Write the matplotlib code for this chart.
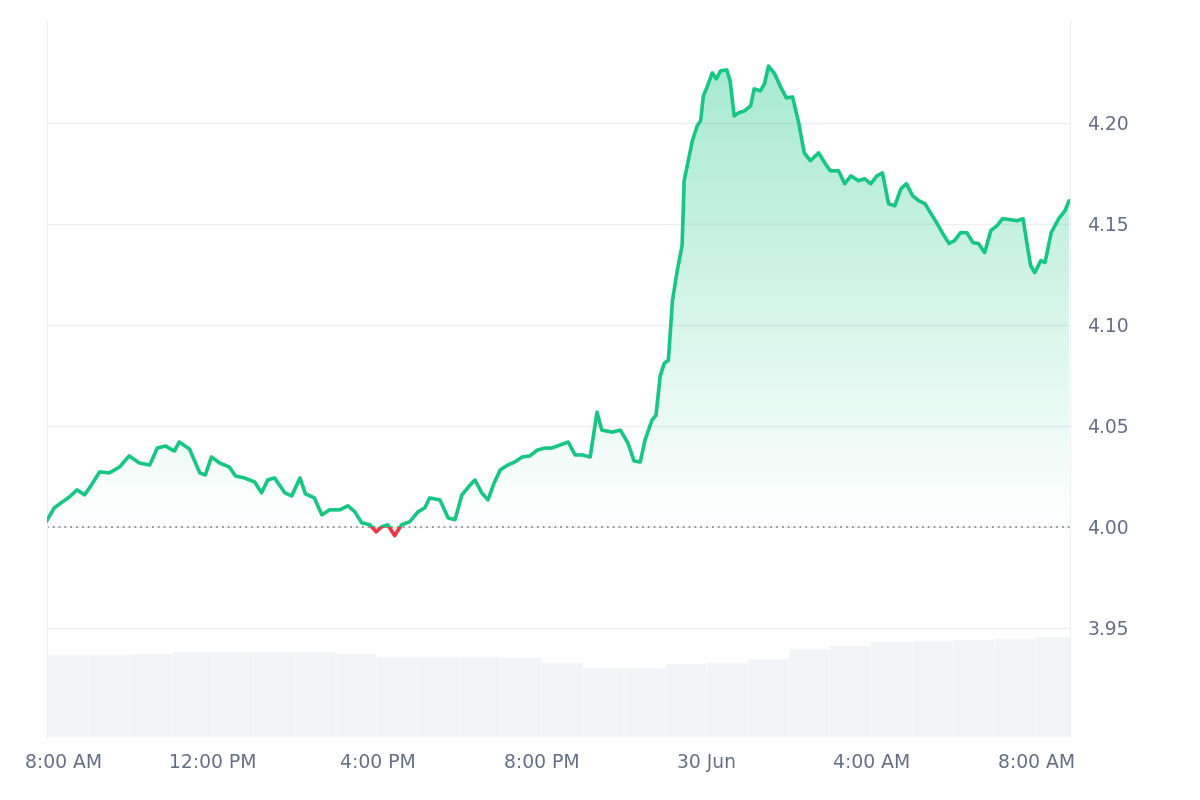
import datetime as dt
import numpy as np
import matplotlib
matplotlib.use("Agg")
import matplotlib.pyplot as plt
import matplotlib.dates as mdates
import matplotlib.transforms as mtransforms
from matplotlib.path import Path
from matplotlib.patches import PathPatch, Rectangle
from matplotlib.colors import LinearSegmentedColormap

# minutes after 8:22 AM (29 Jun) and price
minutes = [-25, -13, -3, 9, 20, 31, 41, 53, 67, 82, 96, 111, 126, 137, 149, 162, 169, 184, 199, 207,
           216, 228, 242, 251, 264, 279, 289, 298, 308, 323, 333, 345, 353, 366, 377, 388, 403, 415, 425, 435,
           447, 456, 464, 473, 483, 493, 505, 517, 527, 534, 549, 561, 571, 581, 593, 600, 610, 619, 628, 637,
           648, 658, 669, 680, 691, 702, 712, 724, 736, 746, 756, 768, 778, 785, 800, 812, 823, 832, 841, 848,
           858, 864, 870, 876, 882, 888, 895, 902, 905, 911, 917, 924, 929, 933, 939, 946, 952, 958, 967, 972,
           978, 984, 993, 1002, 1007, 1016, 1022, 1028, 1037, 1045, 1054, 1063, 1072, 1080, 1089, 1101, 1110, 1118, 1130, 1139,
           1148, 1159, 1168, 1177, 1186, 1194, 1203, 1212, 1221, 1229, 1238, 1247, 1256, 1264, 1273, 1282, 1291, 1299, 1308, 1317,
           1326, 1334, 1343, 1352, 1361, 1369, 1381, 1390, 1399, 1404, 1410, 1416, 1425, 1431, 1440, 1451, 1460, 1466]
prices = [4.0025, 4.0094, 4.0119, 4.0148, 4.0183, 4.0158, 4.0207, 4.0272, 4.0267, 4.0296, 4.0351, 4.0316, 4.0306, 4.0390, 4.0400, 4.0375, 4.0420, 4.0385, 4.0267, 4.0257,
          4.0346, 4.0316, 4.0296, 4.0252, 4.0242, 4.0222, 4.0168, 4.0232, 4.0242, 4.0168, 4.0153, 4.0242, 4.0163, 4.0143, 4.0059, 4.0084, 4.0084, 4.0104, 4.0074, 4.0020,
          4.0010, 3.9975, 4.0000, 4.0010, 3.9956, 4.0010, 4.0025, 4.0074, 4.0094, 4.0143, 4.0133, 4.0044, 4.0035, 4.0158, 4.0207, 4.0232, 4.0168, 4.0133, 4.0217, 4.0282,
          4.0306, 4.0321, 4.0346, 4.0351, 4.0380, 4.0390, 4.0390, 4.0405, 4.0420, 4.0356, 4.0356, 4.0346, 4.0568, 4.0479, 4.0469, 4.0479, 4.0415, 4.0326, 4.0321, 4.0430,
          4.0528, 4.0553, 4.0746, 4.0810, 4.0825, 4.1121, 4.1270, 4.1393, 4.1714, 4.1813, 4.1912, 4.1986, 4.2011, 4.2134, 4.2183, 4.2248, 4.2218, 4.2258, 4.2263, 4.2208,
          4.2035, 4.2050, 4.2060, 4.2085, 4.2169, 4.2159, 4.2193, 4.2282, 4.2243, 4.2183, 4.2124, 4.2129, 4.2000, 4.1852, 4.1813, 4.1852, 4.1802, 4.1763, 4.1763, 4.1699,
          4.1738, 4.1714, 4.1724, 4.1699, 4.1738, 4.1753, 4.1600, 4.1590, 4.1674, 4.1699, 4.1640, 4.1615, 4.1600, 4.1556, 4.1506, 4.1452, 4.1403, 4.1417, 4.1457, 4.1457,
          4.1407, 4.1403, 4.1358, 4.1467, 4.1491, 4.1526, 4.1521, 4.1516, 4.1526, 4.1417, 4.1294, 4.1259, 4.1319, 4.1309, 4.1457, 4.1526, 4.1565, 4.1615]
open_price = 4.00

# hourly volume from 8 AM 29 Jun to 8 AM 30 Jun (relative units)
vol_hours = list(range(25))
volumes = [82, 82, 83, 85, 85, 85, 85, 83, 80, 80, 80, 79, 74, 69, 69, 73, 74, 78, 88, 91, 95, 96, 97, 98, 100]

tick_hours = [0, 4, 8, 12, 16, 20, 24]
tick_labels = ["8:00 AM", "12:00 PM", "4:00 PM", "8:00 PM", "30 Jun", "4:00 AM", "8:00 AM"]

GREEN = "#16c784"
RED = "#ea3943"
TXT = "#616e85"

base = dt.datetime(2025, 6, 29, 8, 22)
day0 = dt.datetime(2025, 6, 29, 8, 0)
t = mdates.date2num([base + dt.timedelta(minutes=m) for m in minutes])
p = np.array(prices)

fig = plt.figure(figsize=(12, 8), dpi=100)
ax = fig.add_axes([0.039, 0.079, 0.853, 0.896])
ax.set_ylim(3.896, 4.251)
x0 = mdates.date2num(day0) - 2 / 1440
x1 = mdates.date2num(base + dt.timedelta(minutes=1468))
ax.set_xlim(x0, x1)

# volume bars
axv = ax.twinx()
axv.set_ylim(0, 717)
vt = mdates.date2num([day0 + dt.timedelta(hours=h) for h in vol_hours])
axv.bar(vt, volumes, width=1 / 24, color="#f2f3f6", edgecolor="white", linewidth=0.3, align="edge")
axv.set_axis_off()
ax.set_zorder(axv.get_zorder() + 1)
ax.patch.set_visible(False)

# gradient area above open price
fb = ax.fill_between(t, p, open_price, where=p >= open_price, interpolate=True, color="none")
path = Path.make_compound_path(*fb.get_paths())
patch = PathPatch(path, transform=ax.transData, facecolor="none", edgecolor="none")
ax.add_patch(patch)
cmap = LinearSegmentedColormap.from_list("g", [(0.086, 0.78, 0.52, 0.0), (0.086, 0.78, 0.52, 0.38)])
grad = np.linspace(0, 1, 256).reshape(-1, 1)
im = ax.imshow(grad, cmap=cmap, aspect="auto", origin="lower",
               extent=[x0, x1, open_price, 4.23], zorder=1)
im.set_clip_path(patch)
ax.fill_between(t, p, open_price, where=p < open_price, interpolate=True, color=RED, alpha=0.12, lw=0)

# line: green above open, red below (clipped)
above_box = Rectangle((x0, open_price), x1 - x0, 1, transform=ax.transData)
below_box = Rectangle((x0, open_price - 1), x1 - x0, 1, transform=ax.transData)
lg, = ax.plot(t, p, color=GREEN, lw=2.6, zorder=3, solid_capstyle="round")
lg.set_clip_path(above_box)
lr, = ax.plot(t, p, color=RED, lw=2.6, zorder=4)
lr.set_clip_path(below_box)
ax.axhline(open_price, color="#7a7f8c", lw=1.2, ls=(0, (1, 2.5)), zorder=2)

for y in [3.95, 4.00, 4.05, 4.10, 4.15, 4.20]:
    ax.axhline(y, color="#eceef2", lw=1, zorder=0)

ax.yaxis.tick_right()
ax.set_yticks([3.95, 4.00, 4.05, 4.10, 4.15, 4.20])
ax.set_yticklabels(["3.95", "4.00", "4.05", "4.10", "4.15", "4.20"])
ax.set_xticks(mdates.date2num([day0 + dt.timedelta(hours=h) for h in tick_hours]))
ax.set_xticklabels(tick_labels)
ax.tick_params(length=0, labelsize=13.5, colors=TXT, pad=12)
first = ax.get_xticklabels()[0]
first.set_transform(first.get_transform() + mtransforms.ScaledTranslation(15 / 100, 0, fig.dpi_scale_trans))
for s in ["top", "bottom"]:
    ax.spines[s].set_visible(False)
for s in ["left", "right"]:
    ax.spines[s].set_color("#eceef2")

fig.savefig("out.png")
